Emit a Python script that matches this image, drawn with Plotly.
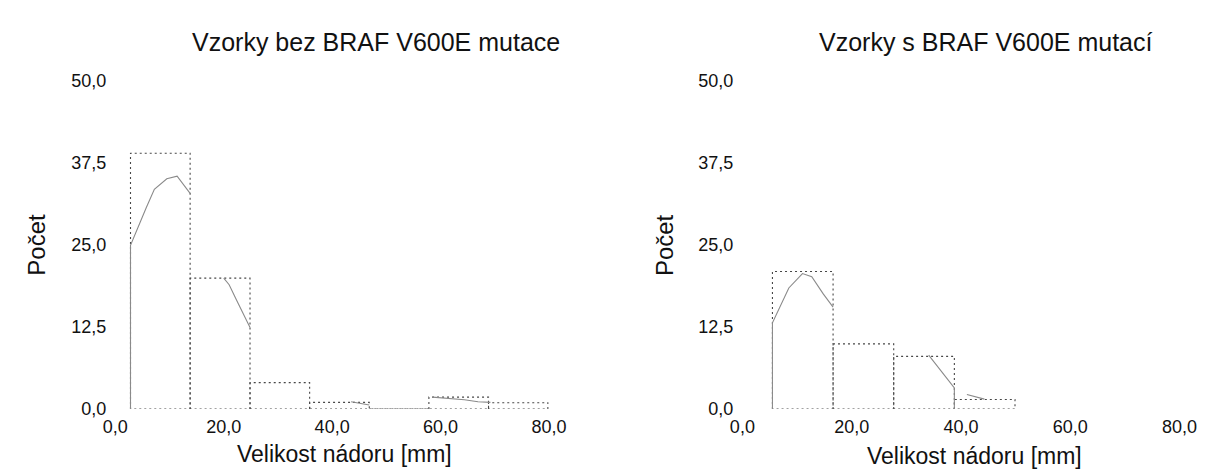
import plotly.graph_objects as go

# ---- data ----
left_title = "Vzorky bez BRAF V600E mutace"
right_title = "Vzorky s BRAF V600E mutací"
x_title = "Velikost nádoru [mm]"
y_title = "Počet"

x_ticks = [0, 20, 40, 60, 80]
y_ticks = [0, 12.5, 25, 37.5, 50]

left_edges = [2.8, 13.8, 24.85, 35.85, 46.85, 57.85, 68.85, 79.8]
left_counts = [38.9, 19.9, 4.0, 1.0, 0.0, 1.8, 0.95]

right_edges = [5.5, 16.6, 27.7, 38.8, 49.9]
right_counts = [20.9, 9.9, 8.0, 1.45]

left_curve_x = [2.8, 2.8, 5.7, 7.2, 9.5, 11.4, 13.8, None, 20.0, 21.0, 22.4, 23.7, 24.85,
                None, 43.5, 46.85, None, 58.5, 61.5, 64.4, 66.9, 69.2]
left_curve_y = [0, 24.9, 30.6, 33.4, 35.0, 35.4, 32.8, None, 19.9, 18.9, 16.5, 14.3, 12.4,
                None, 1.1, 0.6, None, 1.8, 1.6, 1.4, 1.1, 1.0]

right_curve_x = [5.5, 5.5, 8.5, 11.0, 12.7, 14.8, 16.6, None, 34.1, 38.8, 38.8, None, 41.1, 44.3]
right_curve_y = [0, 13.1, 18.4, 20.6, 20.1, 17.5, 15.5, None, 8.2, 3.2, 0, None, 2.2, 1.5]

W, H = 1214, 475
FONT = "Liberation Sans, Arial, sans-serif"


def rect_path(edges, counts):
    xs, ys = [], []
    for i, c in enumerate(counts):
        l, r = edges[i], edges[i + 1]
        xs += [l, l, r, r, l, None]
        ys += [0, c, c, 0, 0, None]
    return xs, ys


fig = go.Figure()

for edges, counts, cx, cy, xa, ya in [
    (left_edges, left_counts, left_curve_x, left_curve_y, "x", "y"),
    (right_edges, right_counts, right_curve_x, right_curve_y, "x2", "y2"),
]:
    bx, by = rect_path(edges, counts)
    fig.add_trace(go.Scatter(x=bx, y=by, mode="lines", xaxis=xa, yaxis=ya,
                             line=dict(color="#474747", width=1.1, dash="2px,3px"),
                             hoverinfo="skip", showlegend=False))
    fig.add_trace(go.Scatter(x=cx, y=cy, mode="lines", xaxis=xa, yaxis=ya,
                             line=dict(color="#8a8a8a", width=1.1),
                             hoverinfo="skip", showlegend=False))

ydom = [(H - 416.5) / H, (H - 73.3) / H]
axis_common = dict(showgrid=False, zeroline=False, showline=False, ticks="",
                   tickfont=dict(family=FONT, size=18, color="#111"),
                   tickformat=".1f")

fig.update_layout(
    width=W, height=H,
    margin=dict(l=0, r=0, t=0, b=0),
    paper_bgcolor="white", plot_bgcolor="white",
    separators=", ",
    showlegend=False,
    xaxis=dict(domain=[105 / W, 550 / W], range=[0, 80], tickvals=x_ticks,
               anchor="y", ticklabelstandoff=5, **axis_common),
    yaxis=dict(domain=ydom, range=[0, 50], tickvals=y_ticks, anchor="x",
               ticklabelstandoff=8, **axis_common),
    xaxis2=dict(domain=[748.5 / W, 1197 / W], range=[0, 80], tickvals=x_ticks,
                anchor="y2", ticklabelstandoff=5, **axis_common),
    yaxis2=dict(domain=ydom, range=[0, 50], tickvals=y_ticks, anchor="x2",
                ticklabelstandoff=8, **axis_common),
)

def ann(text, px, py, size, angle=0):
    fig.add_annotation(text=text, x=px / W, y=(H - py) / H, xref="paper", yref="paper",
                       showarrow=False, xanchor="center", yanchor="middle",
                       textangle=angle, font=dict(family=FONT, size=size, color="#111"))

ann(left_title, 372, 33, 25)
ann(right_title, 998, 33, 25)
ann(x_title, 340, 464, 23)
ann(x_title, 987, 466, 23)
ann(y_title, 24.6, 245, 24, -90)
ann(y_title, 668.5, 245, 24, -90)

fig.write_html("out.html")
